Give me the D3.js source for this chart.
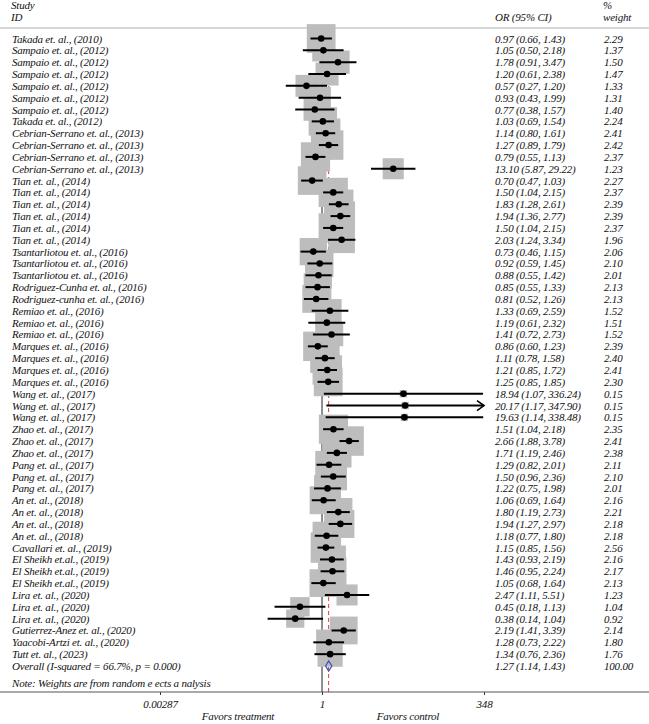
<!DOCTYPE html>
<html>
<head>
<meta charset="utf-8">
<script src="https://cdn.jsdelivr.net/npm/d3@7"></script>
<style>
  body { margin: 0; background: #fff; }
  text { font-family: "Liberation Serif", "Times New Roman", serif; font-style: italic; fill: #111; letter-spacing: -0.2px; }
</style>
</head>
<body>
<script>
// Study labels
var studies = [
	"Takada et. al., (2010)", "Sampaio et. al., (2012)", "Sampaio et. al., (2012)", "Sampaio et. al., (2012)",
	"Sampaio et. al., (2012)", "Sampaio et. al., (2012)", "Sampaio et. al., (2012)", "Takada et. al., (2012)",
	"Cebrian-Serrano et. al., (2013)", "Cebrian-Serrano et. al., (2013)", "Cebrian-Serrano et. al., (2013)", "Cebrian-Serrano et. al., (2013)",
	"Tian et. al., (2014)", "Tian et. al., (2014)", "Tian et. al., (2014)", "Tian et. al., (2014)", "Tian et. al., (2014)", "Tian et. al., (2014)",
	"Tsantarliotou et. al., (2016)", "Tsantarliotou et. al., (2016)", "Tsantarliotou et. al., (2016)",
	"Rodriguez-Cunha et. al., (2016)", "Rodriguez-cunha et. al., (2016)",
	"Remiao et. al., (2016)", "Remiao et. al., (2016)", "Remiao et. al., (2016)",
	"Marques et. al., (2016)", "Marques et. al., (2016)", "Marques et. al., (2016)", "Marques et. al., (2016)",
	"Wang et. al., (2017)", "Wang et. al., (2017)", "Wang et. al., (2017)",
	"Zhao et. al., (2017)", "Zhao et. al., (2017)", "Zhao et. al., (2017)",
	"Pang et. al., (2017)", "Pang et. al., (2017)", "Pang et. al., (2017)",
	"An et. al., (2018)", "An et. al., (2018)", "An et. al., (2018)", "An et. al., (2018)",
	"Cavallari et. al., (2019)", "El Sheikh et.al., (2019)", "El Sheikh et.al., (2019)", "El Sheikh et.al., (2019)",
	"Lira et. al., (2020)", "Lira et. al., (2020)", "Lira et. al., (2020)",
	"Gutierrez-Anez et. al., (2020)", "Yaacobi-Artzi et. al., (2020)", "Tutt et. al., (2023)"
];

// Odds ratios and 95% CI
var or_values = [0.97, 1.05, 1.78, 1.20, 0.57, 0.93, 0.77, 1.03, 1.14, 1.27, 0.79, 13.10,
	0.70, 1.50, 1.83, 1.94, 1.50, 2.03, 0.73, 0.92, 0.88, 0.85, 0.81, 1.33, 1.19, 1.41,
	0.86, 1.11, 1.21, 1.25, 18.94, 20.17, 19.63, 1.51, 2.66, 1.71, 1.29, 1.50, 1.22,
	1.06, 1.80, 1.94, 1.18, 1.15, 1.43, 1.46, 1.05, 2.47, 0.45, 0.38, 2.19, 1.28, 1.34];
var ci_low = [0.66, 0.50, 0.91, 0.61, 0.27, 0.43, 0.38, 0.69, 0.80, 0.89, 0.55, 5.87,
	0.47, 1.04, 1.28, 1.36, 1.04, 1.24, 0.46, 0.59, 0.55, 0.55, 0.52, 0.69, 0.61, 0.72,
	0.60, 0.78, 0.85, 0.85, 1.07, 1.17, 1.14, 1.04, 1.88, 1.19, 0.82, 0.96, 0.75,
	0.69, 1.19, 1.27, 0.77, 0.85, 0.93, 0.95, 0.68, 1.11, 0.18, 0.14, 1.41, 0.73, 0.76];
var ci_high = [1.43, 2.18, 3.47, 2.38, 1.20, 1.99, 1.57, 1.54, 1.61, 1.79, 1.13, 29.22,
	1.03, 2.15, 2.61, 2.77, 2.15, 3.34, 1.15, 1.45, 1.42, 1.33, 1.26, 2.59, 2.32, 2.73,
	1.23, 1.58, 1.72, 1.85, 336.24, 347.90, 338.48, 2.18, 3.78, 2.46, 2.01, 2.36, 1.98,
	1.64, 2.73, 2.97, 1.80, 1.56, 2.19, 2.24, 1.64, 5.51, 1.13, 1.04, 3.39, 2.22, 2.36];
var weights = [2.29, 1.37, 1.50, 1.47, 1.33, 1.31, 1.40, 2.24, 2.41, 2.42, 2.37, 1.23,
	2.27, 2.37, 2.39, 2.39, 2.37, 1.96, 2.06, 2.10, 2.01, 2.13, 2.13, 1.52, 1.51, 1.52,
	2.39, 2.40, 2.41, 2.30, 0.15, 0.15, 0.15, 2.35, 2.41, 2.38, 2.11, 2.10, 2.01,
	2.16, 2.21, 2.18, 2.18, 2.56, 2.16, 2.17, 2.13, 1.23, 1.04, 0.92, 2.14, 1.80, 1.76];

// Pooled estimate
var overall_label = "Overall (I-squared = 66.7%, p = 0.000)";
var overall = {or: 1.27, lo: 1.14, hi: 1.43, weight: "100.00"};

// Axis ticks
var tick_values = [0.00287, 1, 348];
var tick_labels = ["0.00287", "1", "348"];

var width = 649;
var height = 724;
var font_size = 11;

var svg = d3.select("body")
			.append("svg")
			.attr("width", width)
			.attr("height", height);

// Log scale for odds ratios
var xScale = d3.scaleLog()
				.domain([0.00287, 348])
				.range([160, 484]);

// Row positions (studies + overall)
var yScale = d3.scaleLinear()
				.domain([0, studies.length])
				.range([38.5, 666]);

// Box side from weight (area proportional to weight)
var boxScale = d3.scaleSqrt()
				.domain([0, 1])
				.range([0, 19]);

var axis_y = 692;
var rows = studies.map(function(s, i) {
	return {study: s, or: or_values[i], lo: ci_low[i], hi: ci_high[i], w: weights[i], i: i};
});

// Headers
svg.append("text").attr("x", 11).attr("y", 9).style("font-size", font_size + "px").text("Study");
svg.append("text").attr("x", 11).attr("y", 21).style("font-size", font_size + "px").text("ID");
svg.append("text").attr("x", 495).attr("y", 21).style("font-size", font_size + "px").text("OR (95% CI)");
svg.append("text").attr("x", 603).attr("y", 9).style("font-size", font_size + "px").text("%");
svg.append("text").attr("x", 603).attr("y", 21).style("font-size", font_size + "px").text("weight");

svg.append("line")
	.attr("x1", 0).attr("x2", width)
	.attr("y1", 28).attr("y2", 28)
	.style("stroke", "#b0b0b0")
	.style("stroke-width", 1.2);

// Null line and overall estimate line
svg.append("line")
	.attr("x1", xScale(1)).attr("x2", xScale(1))
	.attr("y1", 30).attr("y2", axis_y)
	.style("stroke", "#222")
	.style("stroke-width", 1);

svg.append("line")
	.attr("x1", xScale(overall.or)).attr("x2", xScale(overall.or))
	.attr("y1", 30).attr("y2", axis_y)
	.style("stroke", "#d04040")
	.style("stroke-width", 1)
	.style("stroke-dasharray", "4,3");

// Weight boxes
svg.selectAll("rect.box")
	.data(rows)
	.enter()
	.append("rect")
	.attr("class", "box")
	.attr("x", function(d) { return xScale(d.or) - boxScale(d.w) / 2; })
	.attr("y", function(d) { return yScale(d.i) - boxScale(d.w) / 2; })
	.attr("width", function(d) { return boxScale(d.w); })
	.attr("height", function(d) { return boxScale(d.w); })
	.style("fill", "#bdbdbd");

// Confidence intervals
svg.selectAll("line.ci")
	.data(rows)
	.enter()
	.append("line")
	.attr("class", "ci")
	.attr("x1", function(d) { return xScale(d.lo); })
	.attr("x2", function(d) { return xScale(Math.min(d.hi, 348)); })
	.attr("y1", function(d) { return yScale(d.i); })
	.attr("y2", function(d) { return yScale(d.i); })
	.style("stroke", "#000")
	.style("stroke-width", 2);

// Arrow where CI runs off the scale
svg.selectAll("path.arrow")
	.data(rows.filter(function(d) { return d.hi > 347.5; }))
	.enter()
	.append("path")
	.attr("class", "arrow")
	.attr("d", function(d) {
		var x = xScale(348), y = yScale(d.i);
		return "M" + (x - 7) + "," + (y - 5) + "L" + x + "," + y + "L" + (x - 7) + "," + (y + 5);
	})
	.style("fill", "none")
	.style("stroke", "#000")
	.style("stroke-width", 1.6);

// Point estimates
svg.selectAll("circle.pt")
	.data(rows)
	.enter()
	.append("circle")
	.attr("class", "pt")
	.attr("cx", function(d) { return xScale(d.or); })
	.attr("cy", function(d) { return yScale(d.i); })
	.attr("r", 3.3)
	.style("fill", "#000");

// Overall diamond
var oy = yScale(studies.length);
svg.append("path")
	.attr("d", "M" + xScale(overall.lo) + "," + oy +
		"L" + xScale(overall.or) + "," + (oy - 5) +
		"L" + xScale(overall.hi) + "," + oy +
		"L" + xScale(overall.or) + "," + (oy + 5) + "Z")
	.style("fill", "none")
	.style("stroke", "#3a4fb0")
	.style("stroke-width", 1.2);

// Row texts
var fmt = d3.format(".2f");
var texts = svg.append("g").style("font-size", font_size + "px");
rows.forEach(function(d) {
	var y = yScale(d.i) + 4;
	texts.append("text").attr("x", 12).attr("y", y).text(d.study);
	texts.append("text").attr("x", 495).attr("y", y)
		.text(fmt(d.or) + " (" + fmt(d.lo) + ", " + fmt(d.hi) + ")");
	texts.append("text").attr("x", 604).attr("y", y).text(fmt(d.w));
});
texts.append("text").attr("x", 12).attr("y", oy + 4).text(overall_label);
texts.append("text").attr("x", 495).attr("y", oy + 4)
	.text(fmt(overall.or) + " (" + fmt(overall.lo) + ", " + fmt(overall.hi) + ")");
texts.append("text").attr("x", 604).attr("y", oy + 4).text(overall.weight);
texts.append("text").attr("x", 12).attr("y", 687).text("Note: Weights are from random e ects a nalysis");

// X axis
var xAxis = d3.axisBottom()
				.scale(xScale)
				.tickValues(tick_values)
				.tickFormat(function(d, i) { return tick_labels[i]; })
				.tickSize(3)
				.tickPadding(5);

var axis_g = svg.append("g")
	.attr("transform", "translate(0," + axis_y + ")")
	.call(xAxis);
axis_g.select(".domain").remove();
axis_g.selectAll("text")
	.style("font-family", "Liberation Serif, serif")
	.style("font-style", "italic")
	.style("font-size", font_size + "px")
	.style("fill", "#111");
axis_g.selectAll(".tick line").style("stroke", "#333");

svg.append("line")
	.attr("x1", 0).attr("x2", width)
	.attr("y1", axis_y).attr("y2", axis_y)
	.style("stroke", "#555")
	.style("stroke-width", 1.2);

svg.append("text").attr("x", 238).attr("y", 720).attr("text-anchor", "middle")
	.style("font-size", font_size + "px").text("Favors treatment");
svg.append("text").attr("x", 408).attr("y", 720).attr("text-anchor", "middle")
	.style("font-size", font_size + "px").text("Favors control");
</script>
</body>
</html>
